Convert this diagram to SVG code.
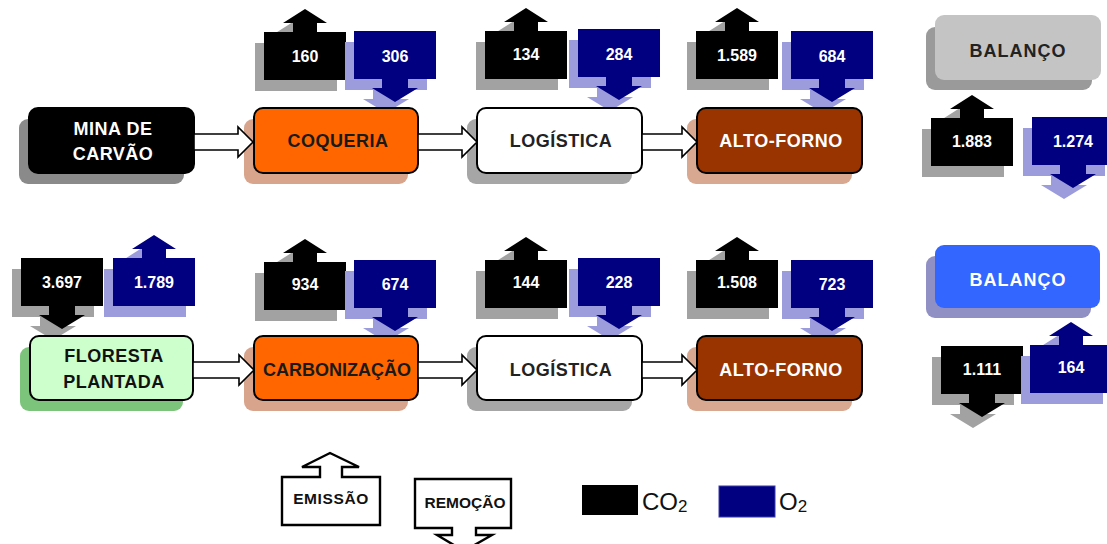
<svg xmlns="http://www.w3.org/2000/svg" xmlns:xlink="http://www.w3.org/1999/xlink" width="1107" height="544" viewBox="0 0 1107 544">
<style>
text{font-family:"Liberation Sans",Arial,sans-serif;font-weight:bold;text-anchor:middle}
.lbl{font-size:18px;letter-spacing:0.5px}
.num{font-size:16px;fill:#fff}
.box{stroke:#000;stroke-width:2}
.conn{fill:#fff;stroke:#000;stroke-width:1.6;stroke-linejoin:miter}
.co2{fill:#000}
.o2{fill:#000080}
.sh-co2{fill:#a2a2a2}
.sh-o2{fill:#9c9cdc}
.leg{fill:#fff;stroke:#000;stroke-width:2.4}
.legt{font-size:15.5px;fill:#111}
.plain{font-weight:normal;text-anchor:start;fill:#111}
</style>
<defs>
<path id="up" d="M0,0 H29 V-9 H19 L41,-23 L63,-9 H53 V0 H82 V48 H0 Z"/>
<path id="down" d="M0,0 H82 V48 H54 V57 H64 L41,71 L18,57 H28 V48 H0 Z"/>
</defs>
<rect width="1107" height="544" fill="#fff"/>

<!-- callouts top row -->
<g id="c160" transform="translate(264,32)"><use xlink:href="#up" class="sh-co2" x="-9" y="11"/><use xlink:href="#up" class="co2"/><text class="num" x="41" y="30">160</text></g>
<g id="c306" transform="translate(354,31)"><use xlink:href="#down" class="sh-o2" x="-9" y="11"/><use xlink:href="#down" class="o2"/><text class="num" x="41" y="31">306</text></g>
<g id="c134" transform="translate(485,31)"><use xlink:href="#up" class="sh-co2" x="-9" y="11"/><use xlink:href="#up" class="co2"/><text class="num" x="41" y="29">134</text></g>
<g id="c284" transform="translate(578,29)"><use xlink:href="#down" class="sh-o2" x="-9" y="11"/><use xlink:href="#down" class="o2"/><text class="num" x="41" y="31">284</text></g>
<g id="c1589" transform="translate(696,31)"><use xlink:href="#up" class="sh-co2" x="-9" y="11"/><use xlink:href="#up" class="co2"/><text class="num" x="41" y="30">1.589</text></g>
<g id="c684" transform="translate(791,31)"><use xlink:href="#down" class="sh-o2" x="-9" y="11"/><use xlink:href="#down" class="o2"/><text class="num" x="41" y="31">684</text></g>

<!-- callouts bottom row -->
<g id="c3697" transform="translate(21,258)"><use xlink:href="#down" class="sh-co2" x="-9" y="11"/><use xlink:href="#down" class="co2"/><text class="num" x="41" y="30">3.697</text></g>
<g id="c1789" transform="translate(113,258)"><use xlink:href="#up" class="sh-o2" x="-9" y="11"/><use xlink:href="#up" class="o2"/><text class="num" x="41" y="30">1.789</text></g>
<g id="c934" transform="translate(264,262)"><use xlink:href="#up" class="sh-co2" x="-9" y="11"/><use xlink:href="#up" class="co2"/><text class="num" x="41" y="28">934</text></g>
<g id="c674" transform="translate(354,260)"><use xlink:href="#down" class="sh-o2" x="-9" y="11"/><use xlink:href="#down" class="o2"/><text class="num" x="41" y="30">674</text></g>
<g id="c144" transform="translate(485,260)"><use xlink:href="#up" class="sh-co2" x="-9" y="11"/><use xlink:href="#up" class="co2"/><text class="num" x="41" y="28">144</text></g>
<g id="c228" transform="translate(578,258)"><use xlink:href="#down" class="sh-o2" x="-9" y="11"/><use xlink:href="#down" class="o2"/><text class="num" x="41" y="30">228</text></g>
<g id="c1508" transform="translate(696,260)"><use xlink:href="#up" class="sh-co2" x="-9" y="11"/><use xlink:href="#up" class="co2"/><text class="num" x="41" y="28">1.508</text></g>
<g id="c723" transform="translate(791,260)"><use xlink:href="#down" class="sh-o2" x="-9" y="11"/><use xlink:href="#down" class="o2"/><text class="num" x="41" y="30">723</text></g>

<!-- balance callouts -->
<g id="c1883" transform="translate(931,118)"><use xlink:href="#up" class="sh-co2" x="-9" y="11"/><use xlink:href="#up" class="co2"/><text class="num" x="41" y="29">1.883</text></g>
<g id="c1274" transform="translate(1032,117)"><use xlink:href="#down" class="sh-o2" x="-9" y="11"/><use xlink:href="#down" class="o2"/><text class="num" x="41" y="30">1.274</text></g>
<g id="c1111" transform="translate(941,346)"><use xlink:href="#down" class="sh-co2" x="-9" y="11"/><use xlink:href="#down" class="co2"/><text class="num" x="41" y="29">1.111</text></g>
<g id="c164" transform="translate(1030,345)"><use xlink:href="#up" class="sh-o2" x="-9" y="11"/><use xlink:href="#up" class="o2"/><text class="num" x="41" y="28">164</text></g>

<!-- main nodes top row -->
<g id="mina">
<rect x="19" y="119" width="165" height="65" rx="9" fill="#8a8a8a"/>
<rect class="box" x="29" y="108" width="165" height="65" rx="9" fill="#000"/>
<text class="lbl" x="113" y="135" fill="#fff">MINA DE</text>
<text class="lbl" x="113" y="160" fill="#fff">CARVÃO</text>
</g>
<g id="coqueria">
<rect x="244" y="119" width="164" height="65" rx="9" fill="#d8a48c"/>
<rect class="box" x="254" y="108" width="164" height="65" rx="9" fill="#ff6600"/>
<text class="lbl" x="338" y="147" fill="#1a1a1a">COQUERIA</text>
</g>
<g id="logistica1">
<rect x="467" y="119" width="165" height="65" rx="9" fill="#a6a6a6"/>
<rect class="box" x="477" y="108" width="165" height="65" rx="9" fill="#fff"/>
<text class="lbl" x="561" y="147" fill="#222">LOGÍSTICA</text>
</g>
<g id="altoforno1">
<rect x="687" y="119" width="165" height="65" rx="9" fill="#d8a890"/>
<rect class="box" x="697" y="108" width="165" height="65" rx="9" fill="#993300"/>
<text class="lbl" x="781" y="147" fill="#fff">ALTO-FORNO</text>
</g>
<g id="balanco1">
<rect x="926" y="27" width="166" height="63" rx="9" fill="#9a9a9a"/>
<rect x="935" y="15" width="166" height="65" rx="9" fill="#c4c4c4"/>
<text class="lbl" x="1018" y="57" fill="#222" style="letter-spacing:1px">BALANÇO</text>
</g>

<!-- main nodes bottom row -->
<g id="floresta">
<rect x="20" y="347" width="163" height="64" rx="9" fill="#7cc47c"/>
<rect class="box" x="30" y="336" width="163" height="64" rx="9" fill="#ccffcc"/>
<text class="lbl" x="114" y="362" fill="#111">FLORESTA</text>
<text class="lbl" x="114" y="388" fill="#111">PLANTADA</text>
</g>
<g id="carbonizacao">
<rect x="244" y="347" width="164" height="64" rx="9" fill="#d8a48c"/>
<rect class="box" x="254" y="336" width="164" height="64" rx="9" fill="#ff6600"/>
<text class="lbl" x="337" y="376" fill="#1a1a1a" style="letter-spacing:0">CARBONIZAÇÃO</text>
</g>
<g id="logistica2">
<rect x="467" y="347" width="165" height="64" rx="9" fill="#a6a6a6"/>
<rect class="box" x="477" y="336" width="165" height="64" rx="9" fill="#fff"/>
<text class="lbl" x="561" y="376" fill="#222">LOGÍSTICA</text>
</g>
<g id="altoforno2">
<rect x="687" y="347" width="165" height="64" rx="9" fill="#d8a890"/>
<rect class="box" x="697" y="336" width="165" height="64" rx="9" fill="#993300"/>
<text class="lbl" x="781" y="376" fill="#fff">ALTO-FORNO</text>
</g>
<g id="balanco2">
<rect x="926" y="256" width="165" height="62" rx="9" fill="#9090c4"/>
<rect x="935" y="245" width="165" height="63" rx="9" fill="#3366ff"/>
<text class="lbl" x="1018" y="286" fill="#fff" style="letter-spacing:1px">BALANÇO</text>
</g>

<!-- connectors -->
<g id="connectors">
<path class="conn" d="M194,134 H238 V127 L253,142 L238,157 V150 H194 Z"/>
<path class="conn" d="M418,134 H462 V127 L477,142 L462,157 V150 H418 Z"/>
<path class="conn" d="M642,134 H682 V127 L697,142 L682,157 V150 H642 Z"/>
<path class="conn" d="M193,362 H239 V355 L254,370 L239,385 V378 H193 Z"/>
<path class="conn" d="M418,362 H462 V355 L477,370 L462,385 V378 H418 Z"/>
<path class="conn" d="M642,362 H682 V355 L697,370 L682,385 V378 H642 Z"/>
</g>

<!-- legend -->
<g id="legend-emissao">
<path class="leg" d="M282,477 H320 V467 H302 L330,453 L359,467 H342 V477 H380 V525 H282 Z"/>
<text class="legt" x="331" y="504" style="letter-spacing:0.6px">EMISSÃO</text>
</g>
<g id="legend-remocao">
<path class="leg" d="M415,479 H511 V528 H476 V535 H492 L464,551 L437,535 H452 V528 H415 Z"/>
<text class="legt" x="465" y="508">REMOÇÃO</text>
</g>
<g id="legend-co2">
<rect x="582" y="485" width="56" height="30" fill="#000"/>
<text class="plain" x="642" y="510" font-size="24">CO<tspan font-size="17" dy="2">2</tspan></text>
</g>
<g id="legend-o2">
<rect x="719" y="486" width="56" height="31" fill="#000080" stroke="#3a3aa8" stroke-width="1"/>
<text class="plain" x="779" y="510" font-size="24">O<tspan font-size="17" dy="2">2</tspan></text>
</g>
</svg>
